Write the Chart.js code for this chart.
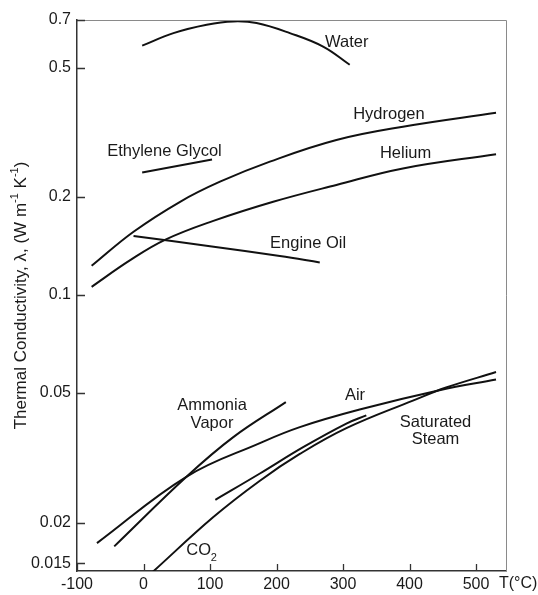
<!DOCTYPE html>
<html>
<head>
<meta charset="utf-8">
<script src="https://cdn.jsdelivr.net/npm/chart.js@4.4.0/dist/chart.umd.min.js"></script>
<style>
  html, body { margin: 0; padding: 0; background: #fff; }
</style>
</head>
<body>
<canvas id="chart" width="538" height="595"></canvas>
<script>
// Axis ticks
const xTicks = [-100, 0, 100, 200, 300, 400, 500];
const yTicks = [0.015, 0.02, 0.05, 0.1, 0.2, 0.5, 0.7];

// Curves: temperature (°C) and conductivity (W/m K)
const waterT = [-2, 45, 95, 135, 170, 220, 270, 310];
const waterK = [0.584, 0.638, 0.677, 0.693, 0.685, 0.638, 0.58, 0.51];

const hydrogenT = [-78, -15, 55, 115, 190, 290, 390, 530];
const hydrogenK = [0.123, 0.1565, 0.1935, 0.223, 0.257, 0.2995, 0.329, 0.363];

const heliumT = [-78, -20, 33, 105, 195, 290, 390, 530];
const heliumK = [0.106, 0.128, 0.148, 0.169, 0.1935, 0.218, 0.245, 0.271];

const glycolT = [-2, 103];
const glycolK = [0.238, 0.261];

const oilT = [-15, 100, 205, 265];
const oilK = [0.152, 0.1412, 0.1318, 0.126];

const ammoniaT = [-44, 65, 135, 214];
const ammoniaK = [0.0169, 0.0277, 0.0366, 0.0469];

const airT = [-70, 65, 175, 235, 325, 445, 530];
const airK = [0.0173, 0.0277, 0.0351, 0.0393, 0.0445, 0.051, 0.055];

const steamT = [108, 175, 240, 305, 335];
const steamK = [0.0235, 0.0283, 0.0341, 0.0403, 0.0427];

const co2T = [13, 105, 175, 235, 305, 405, 455, 530];
const co2K = [0.01406, 0.0208, 0.0269, 0.0325, 0.039, 0.0474, 0.052, 0.058];

// Curve names placed in data units
const labelText = ['Water', 'Hydrogen', 'Helium', 'Engine Oil', 'Ethylene Glycol', 'Ammonia', 'Vapor', 'Air', 'Saturated', 'Steam'];
const labelT = [305.5, 369, 394, 247.5, 31.5, 103, 103, 318, 439, 439];
const labelK = [0.596, 0.358, 0.273, 0.144, 0.277, 0.0458, 0.0404, 0.049, 0.0407, 0.036];

const FONT = '"Liberation Sans", Arial, Helvetica, sans-serif';
const INK = '#1a1a1a';

function pts(t, k) {
  return t.map((v, i) => ({ x: v, y: k[i] }));
}

const series = [
  ['Water', waterT, waterK],
  ['Hydrogen', hydrogenT, hydrogenK],
  ['Helium', heliumT, heliumK],
  ['Ethylene Glycol', glycolT, glycolK],
  ['Engine Oil', oilT, oilK],
  ['Ammonia Vapor', ammoniaT, ammoniaK],
  ['Air', airT, airK],
  ['Saturated Steam', steamT, steamK],
  ['CO2', co2T, co2K]
];

// Frame, inward ticks, curve labels and axis titles
const decorations = {
  id: 'decorations',
  afterDraw(chart) {
    const ctx = chart.ctx;
    const a = chart.chartArea;
    const xs = chart.scales.x;
    const ys = chart.scales.y;
    ctx.save();

    // top and right edge of the frame
    ctx.strokeStyle = '#8a8a8a';
    ctx.lineWidth = 1;
    ctx.beginPath();
    ctx.moveTo(a.left, a.top + 0.5);
    ctx.lineTo(a.right + 0.5, a.top + 0.5);
    ctx.lineTo(a.right + 0.5, a.bottom);
    ctx.stroke();

    // tick marks pointing inside
    ctx.strokeStyle = '#333';
    ctx.lineWidth = 1.3;
    ctx.beginPath();
    yTicks.forEach(v => {
      const y = Math.round(ys.getPixelForValue(v)) + 0.5;
      ctx.moveTo(a.left, y);
      ctx.lineTo(a.left + 8, y);
    });
    xTicks.forEach(v => {
      const x = Math.round(xs.getPixelForValue(v)) + 0.5;
      ctx.moveTo(x, a.bottom);
      ctx.lineTo(x, a.bottom - 7);
    });
    ctx.stroke();

    // curve labels
    ctx.fillStyle = INK;
    ctx.font = '16.5px ' + FONT;
    ctx.textAlign = 'center';
    ctx.textBaseline = 'middle';
    labelText.forEach((txt, i) => {
      ctx.fillText(txt, xs.getPixelForValue(labelT[i]), ys.getPixelForValue(labelK[i]));
    });

    // CO2 with subscript
    const cx = xs.getPixelForValue(83);
    const cy = ys.getPixelForValue(0.0164);
    ctx.fillText('CO', cx, cy);
    ctx.font = '11px ' + FONT;
    ctx.textAlign = 'left';
    ctx.fillText('2', cx + 12, cy + 7);

    // x axis name
    ctx.font = '16px ' + FONT;
    ctx.textAlign = 'left';
    ctx.fillText('T(°C)', 499, a.bottom + 13);

    // y axis title with superscripts
    const parts = [
      ['Thermal Conductivity, λ, (W m', 17, 0],
      ['-1', 11, -6],
      [' K', 17, 0],
      ['-1', 11, -6],
      [')', 17, 0]
    ];
    let total = 0;
    parts.forEach(p => {
      ctx.font = p[1] + 'px ' + FONT;
      p.push(ctx.measureText(p[0]).width);
      total += p[3];
    });
    ctx.translate(21, (a.top + a.bottom) / 2);
    ctx.rotate(-Math.PI / 2);
    let px = -total / 2;
    parts.forEach(p => {
      ctx.font = p[1] + 'px ' + FONT;
      ctx.fillText(p[0], px, p[2]);
      px += p[3];
    });
    ctx.restore();
  }
};

new Chart(document.getElementById('chart'), {
  type: 'line',
  data: {
    datasets: series.map(s => ({
      label: s[0],
      data: pts(s[1], s[2]),
      borderColor: '#111',
      borderWidth: 2,
      pointRadius: 0,
      fill: false,
      tension: 0.4
    }))
  },
  options: {
    responsive: false,
    animation: false,
    layout: { padding: { top: 20, right: 32, left: 0, bottom: 0 } },
    plugins: {
      legend: { display: false },
      tooltip: { enabled: false }
    },
    scales: {
      x: {
        type: 'linear',
        min: -100,
        max: 545,
        grid: { display: false, drawTicks: false },
        border: { display: true, color: '#333', width: 1.5 },
        afterBuildTicks: scale => { scale.ticks = xTicks.map(v => ({ value: v })); },
        afterFit: scale => { scale.height = 24; },
        ticks: {
          padding: 4,
          maxRotation: 0,
          autoSkip: false,
          color: INK,
          font: { family: FONT, size: 16 },
          callback: v => String(v)
        }
      },
      y: {
        type: 'logarithmic',
        min: 0.0142,
        max: 0.7,
        grid: { display: false, drawTicks: false },
        border: { display: true, color: '#333', width: 1.5 },
        afterBuildTicks: scale => { scale.ticks = yTicks.map(v => ({ value: v })); },
        afterFit: scale => { scale.width = 77; },
        ticks: {
          padding: 6,
          autoSkip: false,
          color: INK,
          font: { family: FONT, size: 16 },
          callback: v => String(v)
        }
      }
    }
  },
  plugins: [decorations]
});
</script>
</body>
</html>
